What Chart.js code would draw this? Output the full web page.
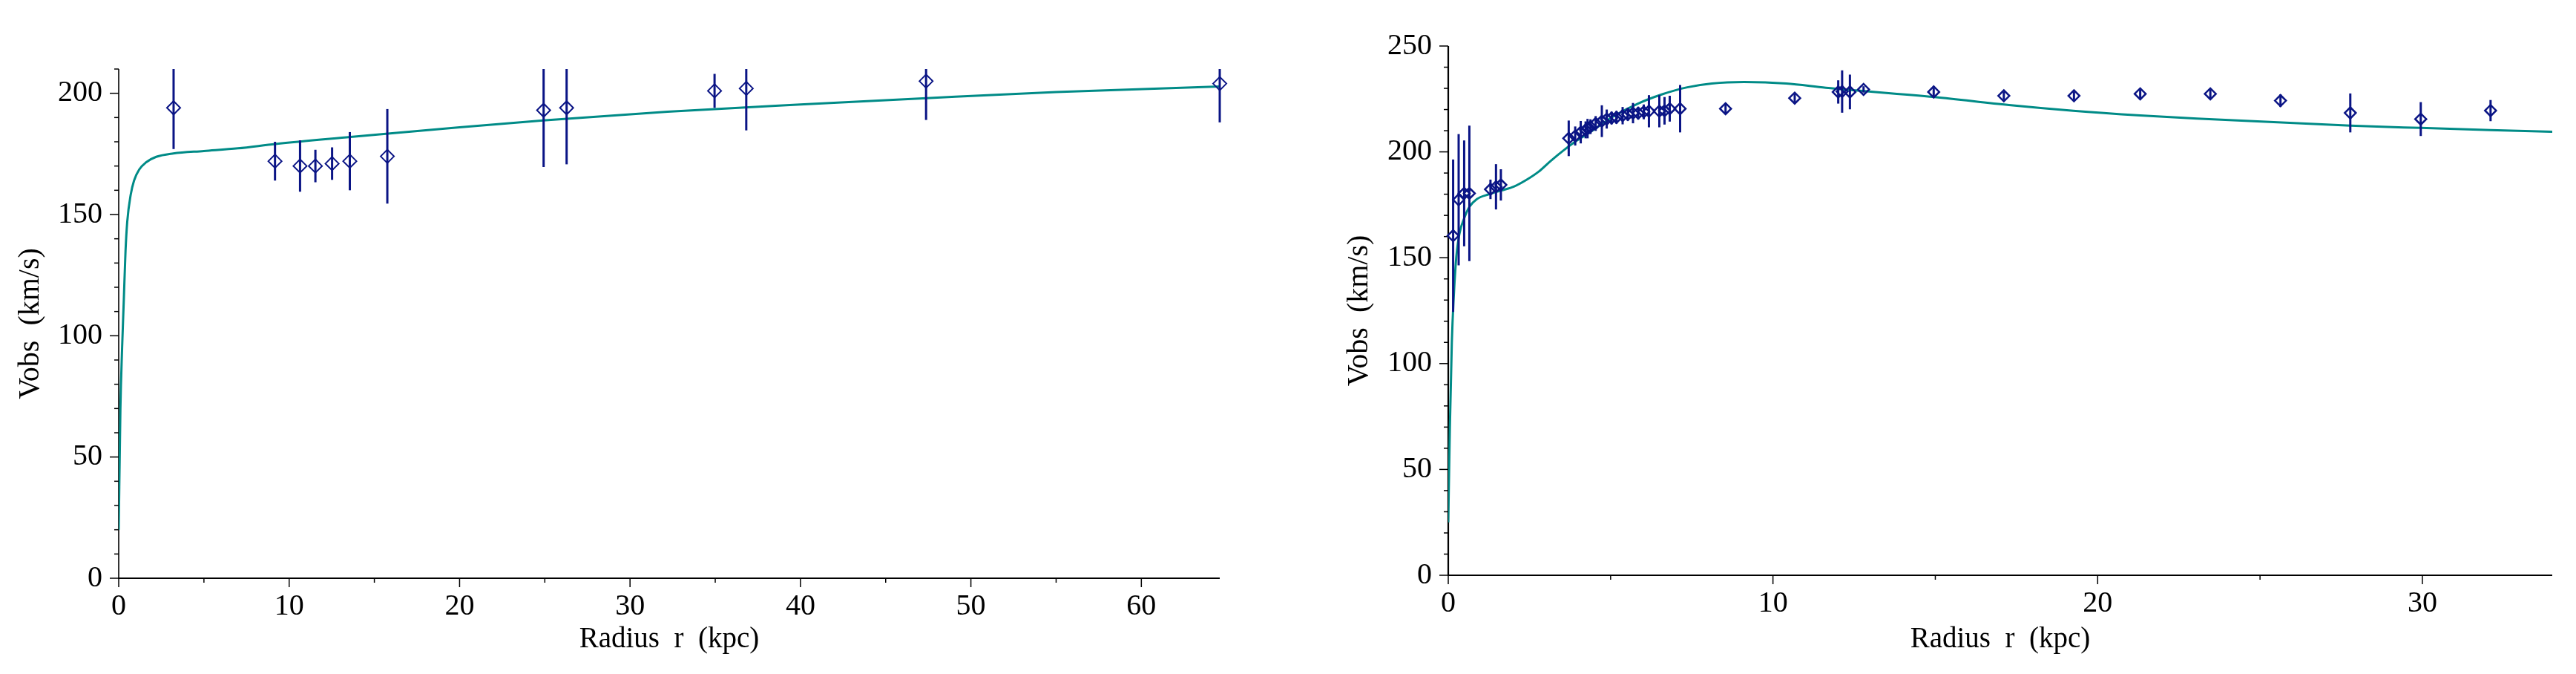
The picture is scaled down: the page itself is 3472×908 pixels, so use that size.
<!DOCTYPE html>
<html>
<head>
<meta charset="utf-8">
<title>Rotation curves</title>
<script src="https://cdn.jsdelivr.net/npm/chart.js@4.4.1/dist/chart.umd.min.js"></script>
<style>
  html, body { margin: 0; padding: 0; background: #fff; }
  #wrap { position: relative; width: 3472px; height: 908px; }
  canvas { position: absolute; top: 0; }
</style>
</head>
<body>
<div id="wrap">
  <canvas id="leftChart" width="1736" height="908" style="left:0"></canvas>
  <canvas id="rightChart" width="1736" height="908" style="left:1736px"></canvas>
</div>
<script>
// ---------------- left galaxy: observed points ----------------
var leftRadius = [3.22, 9.17, 10.64, 11.54, 12.52, 13.56, 15.76, 24.93, 26.28, 34.96, 36.82, 47.37, 64.6];
var leftVobs   = [194, 172, 170, 170, 171, 172, 174, 193, 194, 201, 202, 205, 204];
var leftErr    = [17, 8, 10.6, 6.7, 6.7, 12, 19.5, 23.4, 23.3, 7, 17.3, 16, 16];

// left galaxy: model curve
var leftCurveR = [0, 0.1, 0.2, 0.3, 0.4, 0.5, 0.7, 0.9, 1.2, 1.6, 2.2, 3.2, 5, 7, 9.2, 13.6, 15.8, 20, 24.9, 32.2, 40, 47.4, 55, 64.6];
var leftCurveV = [20, 70, 95, 115, 135, 147, 158, 164, 168.5, 171.5, 173.8, 175.2, 176.2, 177.3, 179.1, 182, 183.4, 186, 188.8, 192.4, 195.4, 198, 200.5, 202.8];

// ---------------- right galaxy: observed points ----------------
var rightRadius = [0.15, 0.32, 0.49, 0.65, 1.30, 1.47, 1.62,
  3.71, 3.91, 4.08, 4.23, 4.29, 4.38, 4.54, 4.73, 4.88, 5.03, 5.18, 5.37, 5.53, 5.69, 5.85, 6.02, 6.18, 6.50, 6.66, 6.82, 7.14,
  8.54, 10.67, 12.01, 12.13, 12.37, 12.79, 14.95, 17.11, 19.27, 21.31, 23.47, 25.63, 27.78, 29.95, 32.1];
var rightVobs = [160.4, 177.4, 180.4, 180.4, 182.3, 183.5, 184.4,
  206.4, 207.5, 209.3, 210.4, 211, 211.9, 213.4, 214.5, 215.5, 216, 216.3, 217.1, 217.7, 218.3, 218.3, 218.9, 219.2, 219.2, 219.4, 220.4, 220.4,
  220.4, 225.4, 228.3, 228.5, 228.3, 229.5, 228.3, 226.5, 226.5, 227.4, 227.4, 224.2, 218.4, 215.5, 219.5];
var rightErr = [36, 31, 25, 32, 4.6, 10.7, 7.4,
  8.4, 4.5, 5.3, 4, 4.6, 3.5, 3.5, 7.5, 4.5, 3, 3, 4.1, 3, 4.8, 3, 3.5, 7.6, 7.6, 6.5, 6.1, 11.2,
  2.5, 2, 5.5, 10, 8.2, 1.5, 2, 2, 2, 2, 2, 3, 9.2, 8, 5];

// right galaxy: model curve
var rightCurveR = [0, 0.05, 0.11, 0.23, 0.34, 0.5, 0.65, 0.88, 1.26, 1.64, 2.02, 2.4, 2.78, 3.16, 3.55, 3.93, 4.31, 5.07, 5.83, 6.59, 7.36, 8.12, 9.11, 10.41, 11.63, 14.98, 17.27, 19.25, 21.31, 23.06, 27.78, 29.95, 32.1, 34];
var rightCurveV = [25, 70, 110, 147, 161, 169, 174, 177.7, 180, 181.8, 183.6, 186.7, 190.6, 195.8, 200.7, 205, 208.7, 216.6, 222.7, 227.2, 230.5, 232.3, 233, 232.3, 230.3, 225.9, 222.1, 219.4, 217.2, 215.7, 212.4, 211.3, 210.3, 209.5];

var NAVY = '#0a1485';
var TEAL = '#008b87';
var SERIF = '"Liberation Serif", "Times New Roman", serif';

function toPoints(xs, ys) {
    var pts = [];
    for (var i = 0; i < xs.length; i++) {
        pts.push({ x: xs[i], y: ys[i] });
    }
    return pts;
}

function isMultiple(v, step) {
    return Math.abs(Math.round(v / step) * step - v) < 1e-6;
}

// axis lines + long/short tick marks, drawn through the chart's own scales
function makeAxes(xMajor, yMajor, yAxisWidth) {
    return {
        id: 'mapleAxes',
        beforeDatasetsDraw: function (chart) {
            var ctx = chart.ctx, area = chart.chartArea;
            var xs = chart.scales.x, ys = chart.scales.y;
            ctx.save();
            ctx.strokeStyle = '#000';
            ctx.lineWidth = 1.5;
            xs.ticks.forEach(function (t) {
                var px = xs.getPixelForValue(t.value);
                var len = isMultiple(t.value, xMajor) ? 12 : 6;
                ctx.beginPath();
                ctx.moveTo(px, area.bottom);
                ctx.lineTo(px, area.bottom + len);
                ctx.stroke();
            });
            ys.ticks.forEach(function (t) {
                var py = ys.getPixelForValue(t.value);
                var len = isMultiple(t.value, yMajor) ? 12 : 6;
                ctx.beginPath();
                ctx.moveTo(area.left, py);
                ctx.lineTo(area.left - len, py);
                ctx.stroke();
            });
            ctx.lineWidth = 2.2;
            ctx.beginPath();
            ctx.moveTo(area.left - 1, area.bottom);
            ctx.lineTo(area.right, area.bottom);
            ctx.stroke();
            ctx.lineWidth = yAxisWidth;
            ctx.beginPath();
            ctx.moveTo(area.left, area.top);
            ctx.lineTo(area.left, area.bottom);
            ctx.stroke();
            ctx.restore();
        }
    };
}

// vertical error bars, clipped at the top of the plot
function makeErrorBars(rs, vs, es, width) {
    return {
        id: 'errorBars',
        afterDatasetsDraw: function (chart) {
            var ctx = chart.ctx, area = chart.chartArea;
            var xs = chart.scales.x, ys = chart.scales.y;
            ctx.save();
            ctx.beginPath();
            ctx.rect(area.left - 20, area.top, area.right - area.left + 40, area.bottom - area.top);
            ctx.clip();
            ctx.strokeStyle = NAVY;
            ctx.lineWidth = width;
            for (var i = 0; i < rs.length; i++) {
                var px = xs.getPixelForValue(rs[i]);
                ctx.beginPath();
                ctx.moveTo(px, ys.getPixelForValue(vs[i] - es[i]));
                ctx.lineTo(px, ys.getPixelForValue(vs[i] + es[i]));
                ctx.stroke();
            }
            ctx.restore();
        }
    };
}

function LoadChart(cfg) {
    return {
        type: 'scatter',
        data: {
            datasets: [{
                data: toPoints(cfg.curveR, cfg.curveV),
                showLine: true,
                borderColor: TEAL,
                borderWidth: 3,
                pointRadius: 0,
                cubicInterpolationMode: 'monotone',
                order: 2
            }, {
                data: toPoints(cfg.radius, cfg.vobs),
                pointStyle: 'rectRot',
                pointRadius: cfg.markerSize,
                pointBorderWidth: cfg.markerLine,
                pointBorderColor: NAVY,
                pointBackgroundColor: 'rgba(0,0,0,0)',
                showLine: false,
                clip: false,
                order: 1
            }]
        },
        options: {
            responsive: false,
            devicePixelRatio: 1,
            animation: false,
            layout: { padding: { left: 0, top: cfg.padTop, right: cfg.padRight, bottom: 0 } },
            plugins: {
                legend: { display: false },
                tooltip: { enabled: false }
            },
            scales: {
                x: {
                    type: 'linear',
                    min: 0,
                    max: cfg.xMax,
                    afterFit: function (s) { s.height = cfg.xHeight; },
                    grid: { display: false, drawTicks: false, tickLength: 0 },
                    border: { display: false },
                    ticks: {
                        stepSize: 5,
                        autoSkip: false,
                        includeBounds: false,
                        maxRotation: 0,
                        padding: 14,
                        color: '#000',
                        font: { family: SERIF, size: 40 },
                        callback: function (v) { return isMultiple(v, 10) ? String(v) : ''; }
                    },
                    title: {
                        display: true,
                        text: 'Radius  r  (kpc)',
                        color: '#000',
                        font: { family: SERIF, size: 39 },
                        padding: { top: 0, bottom: 23 }
                    }
                },
                y: {
                    type: 'linear',
                    min: 0,
                    max: cfg.yMax,
                    afterFit: function (s) { s.width = cfg.yWidth; },
                    grid: { display: false, drawTicks: false, tickLength: 0 },
                    border: { display: false },
                    ticks: {
                        stepSize: 10,
                        autoSkip: false,
                        includeBounds: false,
                        padding: 22,
                        color: '#000',
                        font: { family: SERIF, size: 40 },
                        callback: function (v) { return isMultiple(v, 50) ? String(v) : ''; }
                    },
                    title: {
                        display: true,
                        text: 'Vobs  (km/s)',
                        color: '#000',
                        font: { family: SERIF, size: 40 },
                        padding: { top: cfg.yTitlePad, bottom: 0 }
                    }
                }
            }
        },
        plugins: [makeAxes(10, 50, cfg.yAxisWidth), makeErrorBars(cfg.radius, cfg.vobs, cfg.err, 3)]
    };
}

var leftChart = new Chart(document.getElementById('leftChart'), LoadChart({
    radius: leftRadius, vobs: leftVobs, err: leftErr,
    curveR: leftCurveR, curveV: leftCurveV,
    xMax: 64.6, yMax: 210,
    padTop: 93, padRight: 92, yWidth: 160, xHeight: 129,
    yTitlePad: 17.5, yAxisWidth: 1.6,
    markerSize: 9, markerLine: 2
}));

var rightChart = new Chart(document.getElementById('rightChart'), LoadChart({
    radius: rightRadius, vobs: rightVobs, err: rightErr,
    curveR: rightCurveR, curveV: rightCurveV,
    xMax: 34, yMax: 250,
    padTop: 62, padRight: 32, yWidth: 216, xHeight: 133,
    yTitlePad: 72, yAxisWidth: 2.2,
    markerSize: 7.5, markerLine: 2.5
}));
</script>
</body>
</html>
